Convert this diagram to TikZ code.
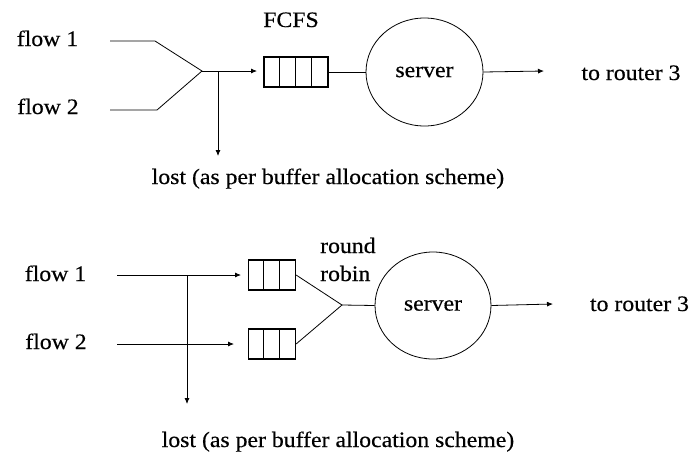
\documentclass[tikz,border=0pt]{standalone}
\usepackage{fontspec}
\setmainfont[FakeStretch=1.08,FakeBold=0.4]{Liberation Serif}
\usetikzlibrary{arrows.meta,calc,shapes.geometric}
\begin{document}
\begin{tikzpicture}[x=1pt,y=-1pt,
  line/.style={line width=0.8pt},
  arr/.style={line width=0.8pt,-{Latex[length=6pt,width=5pt]}},
  lbl/.style={font=\fontsize{22}{26}\selectfont, inner sep=0pt, anchor=base},
  qbox/.style={draw, line width=1.2pt, minimum height=30pt, inner sep=0pt},
  srv/.style={draw, ellipse, line width=0.8pt, inner sep=0pt, font=\fontsize{22}{26}\selectfont}
]
\path[use as bounding box] (0,0) rectangle (696,456);
% ---------- top: FCFS ----------
\node[lbl] (tf1) at (47.5,46) {flow 1};
\node[lbl] (tf2) at (48,114) {flow 2};
\coordinate (ta1) at (110,41);
\coordinate (tb1) at (155,41);
\coordinate (ta2) at (110,110);
\coordinate (tb2) at (157,110);
\coordinate (tm) at (202,71);
\coordinate (tj) at (218,71);
\coordinate (tin) at (257,71);
\coordinate (tl) at (218,156);
\node[qbox, minimum width=64pt] (tq) at (296,72) {};
\foreach \i in {1,2,3} \draw[line width=1.2pt] ($(tq.north west)+(\i*16,0)$) -- ($(tq.south west)+(\i*16,0)$);
\node[lbl] (fcfs) at (291,27) {FCFS};
\node[srv, minimum width=117pt, minimum height=108pt] (ts) at (424.5,72) {server};
\coordinate (tout) at (544,71);
\node[lbl] (tr) at (631,80) {to router 3};
\node[lbl] (tlost) at (328,184) {lost (as per buffer allocation scheme)};
\draw[line] (ta1) -- (tb1) -- (tm) -- (tb2) -- (ta2);
\draw[arr] (tm) -- (tin);
\draw[arr] (tj) -- (tl);
\draw[line] (tq.east) -- (ts.west);
\draw[arr] (ts.east) -- (tout);
% ---------- bottom: round robin ----------
\node[lbl] (bf1) at (55.5,281) {flow 1};
\node[lbl] (bf2) at (56,349) {flow 2};
\coordinate (ba1) at (117,275);
\coordinate (bb1) at (241,275);
\coordinate (ba2) at (117,344);
\coordinate (bb2) at (234,344);
\coordinate (bj) at (187,275);
\coordinate (bl) at (187,404);
\node[qbox, minimum width=47pt] (bq1) at (272,275) {};
\node[qbox, minimum width=47pt] (bq2) at (272,344) {};
\foreach \q in {bq1,bq2}
  \foreach \i in {1,2} \draw[line width=1.2pt] ($(\q.north west)+(\i*15.67,0)$) -- ($(\q.south west)+(\i*15.67,0)$);
\coordinate (bm) at (342,305);
\node[srv, minimum width=116pt, minimum height=107pt] (bs) at (433,305.5) {server};
\coordinate (bout) at (553,304);
\node[lbl, anchor=base west] (rr1) at (320,253) {round};
\node[lbl, anchor=base west] (rr2) at (320,281) {robin};
\node[lbl] (br) at (639.5,311) {to router 3};
\node[lbl] (blost) at (338,447) {lost (as per buffer allocation scheme)};
\draw[arr] (ba1) -- (bb1);
\draw[arr] (ba2) -- (bb2);
\draw[arr] (bj) -- (bl);
\draw[line] (bq1.east) -- (bm) -- (bq2.east);
\draw[line] (bm) -- (bs.west);
\draw[arr] (bs.east) -- (bout);
\end{tikzpicture}
\end{document}
